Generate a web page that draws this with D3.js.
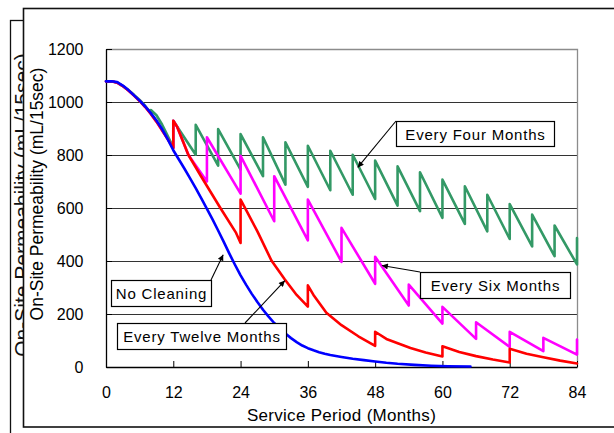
<!DOCTYPE html>
<html><head><meta charset="utf-8">
<script src="https://cdn.jsdelivr.net/npm/d3@7"></script>
<style>
body{margin:0;background:#fff;}
svg{display:block;font-family:"Liberation Sans",Arial,sans-serif;}
</style></head>
<body><svg id="c" width="614" height="433"></svg>
<script>
// ---- data (month, permeability) ----
const xTicks = [0, 12, 24, 36, 48, 60, 72, 84];
const yTicks = [0, 200, 400, 600, 800, 1000, 1200];

const noCleaning = [[0,1078],[1,1078],[2,1075],[3,1062],[4,1045],[5,1025],[6,1005],[7,983],[8,958],[9,930],[10,898],[11,860],[12,818],[13,783],[14,748],[15,712],[16,675],[17,636],[18,597],[19,557],[20,515],[21,472],[22,428],[23,386],[24,346],[25,310],[26,276],[27,245],[28,216],[29,190],[30,166],[31,145],[32,126],[33,109],[34,94],[35,81],[36,71],[37,63],[38,56],[39,50],[40,45],[42,38],[44,31],[46,26],[48,21],[50,16],[52,12],[55,8],[58,5],[61,3],[65,2]];

const everyTwelve = [[0,1078],[1,1078],[2,1073],[3,1060],[4,1043],[5,1024],[6,1004],[7,981],[8,955],[9,926],[10,893],[11,860],[12,826],[12,929],[12.7,906],[14.7,800],[17,718],[20.4,600],[23.2,506],[24,468],[24,632],[25,592],[27,512],[29.5,402],[31.9,330],[34,272],[36,228],[36,308],[37,272],[39.3,205],[42,158],[45,116],[48,80],[48,133],[50,106],[54.3,72],[57,55],[60,40],[60,78],[63,57],[66,41],[69,28],[72,17],[72,69],[75,50],[78,37],[81,24],[84,13]];

const everySix = [[0,1078],[1,1078],[2,1073],[3,1060],[4,1043],[5,1024],[6,1004],[7,981],[8,955],[9,926],[10,893],[11,860],[12,826],[12,929],[12.7,906],[14.7,800],[18,700],[18,867],[24,654],[24,797],[30,550],[30,720],[36,478],[36,632],[42,397],[42,525],[48,314],[48,416],[54,232],[54,311],[60,164],[60,227],[66,106],[66,169],[72,76],[72,133],[78,60],[78,110],[84,47],[84,104]];

const everyFour = [[0,1078],[1,1078],[2,1073],[3,1060],[4,1045],[5,1027],[6,1008],[7,985],[8,958],[8,970],[9,950],[10,915],[11,872],[12,828],[12,929],[16,801],[16,914],[20,760],[20,898],[24,745],[24,879],[28,720],[28,867],[32,688],[32,848],[36,680],[36,835],[40,667],[40,816],[44,650],[44,801],[48,634],[48,779],[52,609],[52,757],[56,588],[56,735],[60,563],[60,707],[64,540],[64,682],[68,512],[68,650],[72,483],[72,615],[76,455],[76,575],[80,418],[80,534],[84,387],[84,487]];

const seriesNames = ["Every Four Months","Every Six Months","Every Twelve Months","No Cleaning"];
const yTitle = "On-Site Permeability (mL/15sec)";
const xTitle = "Service Period (Months)";

// ---- layout ----
const svg = d3.select("#c");
const x = d3.scaleLinear().domain([0,84]).range([106,577]);
const y = d3.scaleLinear().domain([0,1200]).range([367,49]);

// back (duplicate) frame
svg.append("rect").attr("x",10.5).attr("y",20.5).attr("width",700).attr("height",500)
  .attr("fill","#fff").attr("stroke","#111").attr("stroke-width",1.3);
svg.append("text").attr("transform","translate(28.6,205) rotate(-90)")
  .attr("text-anchor","middle").attr("font-size",21).attr("fill","#111").text(yTitle);

// front frame
svg.append("rect").attr("x",23.5).attr("y",8.5).attr("width",700).attr("height",418.5)
  .attr("fill","#fff").attr("stroke","#111").attr("stroke-width",1.6);

// gridlines
svg.append("g").selectAll("line").data(yTicks.filter(v=>v>0 && v<1200)).join("line")
  .attr("x1",x(0)+0.5).attr("x2",x(84)+0.5)
  .attr("y1",d=>y(d)+0.5).attr("y2",d=>y(d)+0.5)
  .attr("stroke","#333").attr("stroke-width",1);
// top / right plot border
svg.append("path").attr("d",`M${x(0)+0.5},${y(1200)+0.5}H${x(84)+0.5}V${y(0)+0.5}`)
  .attr("fill","none").attr("stroke","#8c8c8c").attr("stroke-width",1.3);

// axes
const gx = svg.append("g").attr("transform",`translate(0,${y(0)})`)
  .call(d3.axisBottom(x).tickValues(xTicks).tickFormat(d3.format("d")).tickSizeInner(-6).tickSizeOuter(0).tickPadding(20));
const gy = svg.append("g").attr("transform",`translate(${x(0)},0)`)
  .call(d3.axisLeft(y).tickValues(yTicks).tickFormat(d3.format("d")).tickSizeInner(-6).tickSizeOuter(0).tickPadding(22.5));
[gx,gy].forEach(g=>{
  g.attr("font-family",null).attr("font-size",16);
  g.select(".domain").attr("stroke","#000").attr("stroke-width",1.3);
  g.selectAll(".tick line").attr("stroke","#000");
  g.selectAll(".tick text").attr("fill","#000");
});
gy.selectAll(".tick text").attr("dy","0.34em");

// titles
svg.append("text").attr("x",(x(0)+x(84))/2).attr("y",421).attr("text-anchor","middle")
  .attr("font-size",17).attr("letter-spacing",0.3).attr("fill","#000").text(xTitle);
svg.append("text").attr("transform","translate(42.5,194) rotate(-90)").attr("text-anchor","middle")
  .attr("font-size",17.5).attr("fill","#000").text(yTitle);

// series lines
const line = d3.line().x(d=>x(d[0])).y(d=>y(d[1]));
const series = [
  {data: everyFour, color:"#339966"},
  {data: everySix, color:"#ff00ff"},
  {data: everyTwelve, color:"#ff0000"},
  {data: noCleaning, color:"#0000ff"}
];
svg.append("g").selectAll("path").data(series).join("path")
  .attr("d",d=>line(d.data)).attr("fill","none").attr("stroke",d=>d.color)
  .attr("stroke-width",2.6).attr("stroke-linejoin","round").attr("stroke-linecap","round");

// annotations (box in pixel layout, arrow tip in data units)
svg.append("defs").append("marker").attr("id","ah").attr("viewBox","0 0 10 10")
  .attr("refX",10).attr("refY",5).attr("markerWidth",8).attr("markerHeight",6)
  .attr("markerUnits","userSpaceOnUse").attr("orient","auto")
  .append("path").attr("d","M0,0L10,5L0,10Z").attr("fill","#000");

const notes = [
  {label: seriesNames[0], box:[396,121,158,25], from:[396,121], tip:[44.9,753]},
  {label: seriesNames[1], box:[420,272,150,26], from:[420,272], tip:[49.2,383]},
  {label: seriesNames[3], box:[111,280,100,26], from:[211,280], tip:[20.9,424]},
  {label: seriesNames[2], box:[117,323,169,26], from:[245,323], tip:[31.9,326]}
];
const ng = svg.append("g");
notes.forEach(n=>{
  ng.append("line").attr("x1",n.from[0]).attr("y1",n.from[1])
    .attr("x2",x(n.tip[0])).attr("y2",y(n.tip[1]))
    .attr("stroke","#000").attr("stroke-width",1.1).attr("marker-end","url(#ah)");
  ng.append("rect").attr("x",n.box[0]+0.5).attr("y",n.box[1]+0.5)
    .attr("width",n.box[2]).attr("height",n.box[3])
    .attr("fill","#fff").attr("stroke","#000").attr("stroke-width",1.2);
  ng.append("text").attr("x",n.box[0]+n.box[2]/2+0.5).attr("y",n.box[1]+n.box[3]/2+6)
    .attr("text-anchor","middle").attr("font-size",15).attr("letter-spacing",0.8)
    .attr("fill","#000").text(n.label);
});
</script></body></html>
